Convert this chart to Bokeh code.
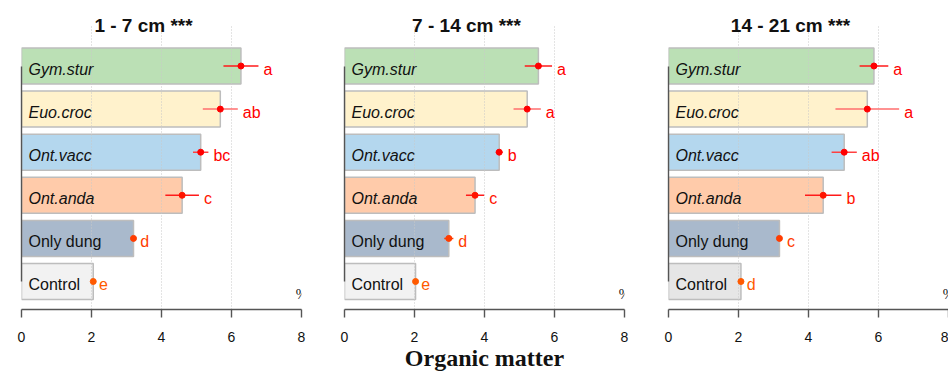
from bokeh.plotting import figure
from bokeh.layouts import row
from bokeh.models import ColumnDataSource, FixedTicker, Label, Range1d
from bokeh.core.properties import value
from bokeh.embed import file_html
from bokeh.resources import INLINE

# ---------------- data ----------------
categories = ["Gym.stur", "Euo.croc", "Ont.vacc", "Ont.anda", "Only dung", "Control"]
label_styles = ["italic", "italic", "italic", "italic", "normal", "normal"]

depth_titles = ["1 - 7 cm ***", "7 - 14 cm ***", "14 - 21 cm ***"]

mean_1_7 = [6.27, 5.68, 5.12, 4.59, 3.20, 2.05]
se_1_7 = [0.50, 0.50, 0.22, 0.48, 0.05, 0.02]
letters_1_7 = ["a", "ab", "bc", "c", "d", "e"]

mean_7_14 = [5.54, 5.22, 4.42, 3.73, 2.98, 2.03]
se_7_14 = [0.39, 0.39, 0.10, 0.26, 0.13, 0.02]
letters_7_14 = ["a", "a", "b", "c", "d", "e"]

mean_14_21 = [5.87, 5.68, 5.02, 4.42, 3.17, 2.07]
se_14_21 = [0.41, 0.91, 0.36, 0.52, 0.07, 0.02]
letters_14_21 = ["a", "a", "ab", "b", "c", "d"]

x_ticks = [0, 2, 4, 6, 8]
grid_ticks = [2, 4, 6]
x_label = "Organic matter"
unit_label = "%"

# ---------------- styles ----------------
bar_fills = ["#BBE0B5", "#FFF2CC", "#B4D7EE", "#FFCBAA", "#A9B9CC"]
control_fills = ["#F2F2F2", "#F2F2F2", "#E6E6E6"]
mark_colors = ["#FF0000", "#FF0000", "#FF0000", "#FF1400", "#FF3C00", "#FF5A00"]
err_colors = ["#FF1A1A", "#FF6E6E", "#FF4040", "#FF1A1A", "#FF3C00", "#FF5A00"]

SANS = "Liberation Sans"
SERIF = "Liberation Serif"
H = 374
FRAME_H = 309
Y0, Y1 = -0.65, 6.52      # frame spans the whole top of each figure
GRID_TOP = 5.94           # dotted guides start a little below the top

panels = [
    dict(mean=mean_1_7, se=se_1_7, letters=letters_1_7, width=332, lb=21, rb=31),
    dict(mean=mean_7_14, se=se_7_14, letters=letters_7_14, width=324, lb=12, rb=32),
    dict(mean=mean_14_21, se=se_14_21, letters=letters_14_21, width=292, lb=12, rb=0),
]


def make_panel(k, cfg):
    n = len(categories)
    ys = [n - 1 - i for i in range(n)]
    lo = [m - s for m, s in zip(cfg["mean"], cfg["se"])]
    hi = [m + s for m, s in zip(cfg["mean"], cfg["se"])]
    src = ColumnDataSource(dict(
        y=ys, cat=categories, style=label_styles, mean=cfg["mean"], lo=lo, hi=hi,
        letter=cfg["letters"], fill=bar_fills + [control_fills[k]],
        mcol=mark_colors, ecol=err_colors,
    ))
    p = figure(width=cfg["width"], height=H, x_range=Range1d(x_ticks[0], x_ticks[-1]),
               y_range=Range1d(Y0, Y1), output_backend="svg", toolbar_location=None,
               min_border_left=cfg["lb"], min_border_right=cfg["rb"],
               min_border_top=0, min_border_bottom=H - FRAME_H)
    p.outline_line_color = None
    p.background_fill_color = "white"
    p.border_fill_color = "white"

    # x axis
    ax = p.xaxis[0]
    ax.ticker = FixedTicker(ticks=x_ticks)
    ax.bounds = (x_ticks[0], x_ticks[-1])
    ax.axis_line_color = "#555555"
    ax.axis_line_width = 1.4
    ax.major_tick_line_color = "#555555"
    ax.major_tick_line_width = 1.4
    ax.major_tick_out = 8
    ax.major_tick_in = 0
    ax.minor_tick_line_color = None
    ax.major_label_standoff = 14
    ax.major_label_text_font = SANS
    ax.major_label_text_font_size = "14px"
    ax.major_label_text_color = "#111111"
    if k == 1:
        ax.axis_label = x_label
        ax.axis_label_text_font = SERIF
        ax.axis_label_text_font_size = "24px"
        ax.axis_label_text_font_style = "bold"
        ax.axis_label_text_color = "#111111"
        ax.axis_label_standoff = 0

    # y axis: plain line spanning the categories
    ay = p.yaxis[0]
    ay.ticker = FixedTicker(ticks=[])
    ay.bounds = (0, n - 1)
    ay.axis_line_color = "#555555"
    ay.axis_line_width = 1.4
    ay.major_tick_line_color = None
    ay.minor_tick_line_color = None
    ay.major_tick_out = 0
    ay.major_label_standoff = 0
    ay.major_label_text_font_size = "0px"

    p.xgrid.visible = False
    p.ygrid.visible = False
    p.segment(x0=grid_ticks, x1=grid_ticks, y0=[Y0] * len(grid_ticks),
              y1=[GRID_TOP] * len(grid_ticks), line_color="#C8C8C8", line_dash="1 2",
              line_width=1, level="underlay")

    p.hbar(y="y", left=0, right="mean", height=0.835, fill_color="fill",
           line_color="#BDBDBD", line_width=1.5, source=src, level="image")
    p.segment(x0="lo", y0="y", x1="hi", y1="y", line_color="ecol", line_width=1.5, source=src)
    p.scatter(x="mean", y="y", size=6, fill_color="mcol", line_color="mcol", source=src)

    p.text(x=0, y="y", text="cat", x_offset=7, y_offset=3, text_font=value(SANS),
           text_font_size="16px", text_font_style={"field": "style"}, text_baseline="middle",
           text_align="left", text_color="#111111", source=src)
    p.text(x="hi", y="y", text="letter", x_offset=5, y_offset=3, text_font=value(SANS),
           text_font_size="16px", text_baseline="middle", text_align="left",
           text_color="mcol", source=src)

    p.add_layout(Label(x=(x_ticks[0] + x_ticks[-1]) / 2, y=GRID_TOP, x_offset=-18, y_offset=0,
                       text=depth_titles[k], text_font=SANS, text_font_size="19px",
                       text_font_style="bold", text_align="center", text_baseline="middle",
                       text_color="#111111"))
    p.add_layout(Label(x=x_ticks[-1], y=Y0, y_offset=15, text=unit_label, text_font=SERIF,
                       text_font_size="14px", text_align="center", text_baseline="middle",
                       text_color="#111111"))
    return p


figs = [make_panel(k, cfg) for k, cfg in enumerate(panels)]
layout = row(*figs)
open("out.html", "w").write(file_html(layout, INLINE))
